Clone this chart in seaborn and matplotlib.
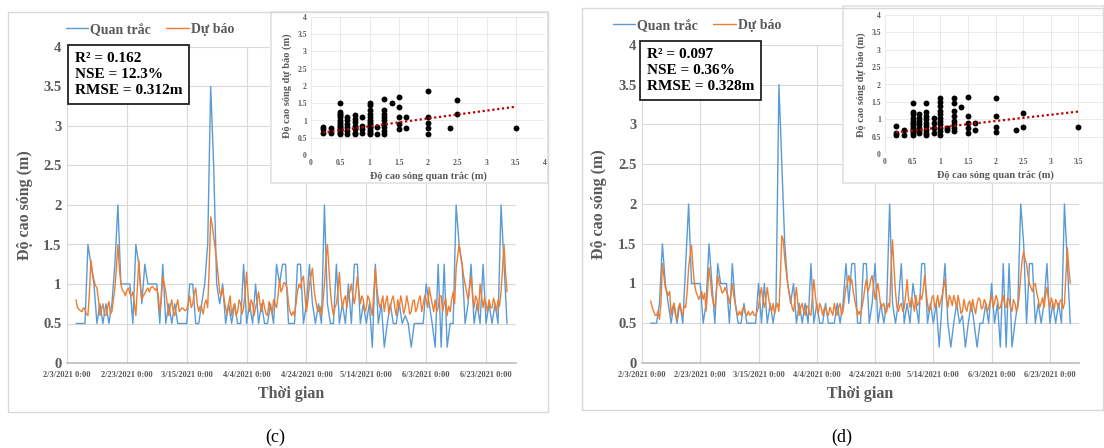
"""Observed vs forecast wave height: two panels (c) and (d), each with a scatter inset."""
import matplotlib

matplotlib.use("Agg")
import matplotlib.pyplot as plt
import numpy as np
import pandas as pd
import seaborn as sns
from matplotlib.patches import Rectangle

W, H = 1104, 448

# daily series, first value on 2021-02-06 (forecast also has a midday value in between)
SERIES_START = "2021-02-06"
AXIS_START, AXIS_END = "2021-02-03", "2021-07-03"
TICK_DATES = pd.date_range(AXIS_START, periods=8, freq="20D")

obs_c = [
    0.5, 0.5, 0.5, 0.5, 1.5, 1.25, 1.0, 0.5, 0.75, 0.5,
    0.75, 0.5, 0.75, 1.25, 2.0, 1.0, 1.0, 1.0, 1.0, 0.5,
    1.5, 1.25, 0.75, 1.25, 1.0, 1.0, 1.0, 1.0, 0.5, 1.25,
    0.5, 0.75, 0.5, 0.75, 0.5, 0.5, 0.5, 0.5, 1.0, 1.0,
    0.5, 0.5, 0.75, 1.0, 1.5, 3.5, 2.5, 1.0, 0.75, 1.0,
    0.5, 0.75, 0.5, 0.75, 0.5, 0.5, 1.25, 0.5, 0.75, 0.5,
    1.0, 0.5, 0.75, 0.5, 0.5, 0.75, 0.5, 1.25, 1.0, 1.25,
    1.25, 0.5, 0.5, 0.5, 1.25, 1.25, 0.5, 0.75, 1.25, 0.75,
    0.5, 0.75, 0.5, 2.0, 0.75, 0.5, 0.5, 1.25, 0.5, 0.75,
    0.5, 1.0, 0.5, 1.25, 1.25, 0.5, 0.75, 0.5, 0.75, 0.2,
    1.25, 0.5, 0.75, 0.2, 0.5, 0.75, 0.5, 0.5, 0.75, 0.5,
    0.6, 0.5, 0.2, 0.5, 0.5, 0.5, 0.5, 1.0, 0.75, 0.5,
    0.2, 1.25, 0.2, 1.25, 0.2, 0.5, 0.5, 2.0, 1.5, 1.25,
    0.5, 0.75, 1.25, 0.5, 0.75, 0.5, 1.25, 0.5, 0.75, 0.5,
    0.75, 0.5, 2.0, 1.25, 0.5,
]
pred_c = [
    0.8, 0.68, 0.65, 0.68, 0.6, 1.3, 1.05, 0.95, 0.6, 0.75,
    0.6, 0.78, 0.65, 0.95, 1.5, 1.0, 0.9, 0.92, 0.88, 0.9,
    0.6, 1.3, 0.8, 0.88, 0.95, 0.95, 0.95, 0.95, 0.65, 1.1,
    0.9, 0.6, 0.8, 0.6, 0.8, 0.68, 0.68, 0.68, 0.85, 0.75,
    0.95, 0.65, 0.7, 0.75, 0.7, 1.85, 1.6, 1.3, 0.9, 0.95,
    0.7, 0.75, 0.6, 0.75, 0.65, 0.75, 0.7, 1.15, 0.65, 0.75,
    0.7, 0.9, 0.65, 0.7, 0.6, 0.7, 0.8, 0.7, 1.05, 0.95,
    1.0, 0.75, 0.6, 0.6, 0.9, 0.95, 1.1, 0.65, 1.0, 1.2,
    0.8, 0.65, 0.6, 1.0, 1.5, 0.9, 0.6, 0.75, 1.15, 0.7,
    0.85, 0.85, 1.0, 0.75, 1.1, 0.75, 0.8, 0.7, 0.8, 0.6,
    1.2, 0.8, 0.75, 0.65, 0.85, 0.7, 0.85, 0.6, 0.7, 0.75,
    0.7, 0.75, 0.65, 0.8, 0.7, 0.85, 0.75, 0.8, 0.96, 0.75,
    0.8, 0.7, 0.85, 0.75, 0.6, 0.65, 0.9, 1.2, 1.5, 1.25,
    1.0, 0.8, 1.1, 0.7, 0.8, 1.0, 0.7, 0.75, 0.8, 0.7,
    0.75, 0.8, 0.9, 1.5, 0.9,
]
pred_c_mid = [
    0.7, 0.66, 0.7, 0.62, 0.9, 1.15, 0.98, 0.8, 0.68, 0.62,
    0.7, 0.62, 0.8, 1.2, 1.2, 0.92, 0.85, 0.95, 0.85, 0.75,
    0.95, 1.0, 0.85, 0.92, 0.9, 0.97, 0.92, 0.85, 0.8, 1.0,
    0.75, 0.72, 0.65, 0.72, 0.65, 0.7, 0.66, 0.75, 0.7, 0.88,
    0.75, 0.72, 0.62, 0.8, 1.2, 1.75, 1.45, 1.1, 0.85, 0.8,
    0.62, 0.85, 0.7, 0.6, 0.8, 0.62, 0.9, 0.85, 0.8, 0.6,
    0.78, 0.75, 0.8, 0.62, 0.78, 0.62, 0.75, 0.85, 0.9, 1.02,
    0.95, 0.65, 0.65, 0.75, 1.0, 1.05, 0.85, 0.8, 1.1, 0.95,
    0.7, 0.72, 0.75, 1.3, 1.2, 0.72, 0.7, 0.9, 0.85, 0.8,
    0.7, 0.9, 0.85, 0.9, 0.9, 0.85, 0.65, 0.85, 0.7, 0.9,
    0.95, 0.7, 0.85, 0.78, 0.62, 0.8, 0.7, 0.8, 0.85, 0.62,
    0.85, 0.62, 0.78, 0.65, 0.8, 0.65, 0.85, 0.7, 0.85, 0.65,
    0.65, 0.85, 0.65, 0.82, 0.72, 0.8, 0.75, 1.35, 1.35, 1.1,
    0.9, 0.95, 0.85, 0.85, 0.65, 0.85, 0.82, 0.65, 0.7, 0.82,
    0.65, 0.72, 1.2, 1.15,
]
obs_d = [
    0.5, 0.5, 0.5, 0.75, 1.5, 1.0, 0.75, 0.5, 0.75, 0.5,
    0.75, 0.5, 1.25, 2.0, 1.0, 1.0, 1.0, 1.0, 0.5, 0.75,
    1.5, 1.0, 0.5, 1.25, 1.0, 1.0, 1.0, 0.5, 1.25, 0.75,
    0.5, 0.5, 0.75, 0.5, 0.5, 0.5, 0.5, 1.0, 0.5, 1.0,
    0.5, 0.75, 0.5, 0.75, 3.5, 2.5, 1.5, 1.0, 0.75, 1.0,
    0.5, 0.75, 0.5, 0.75, 0.5, 1.25, 0.5, 0.75, 0.5, 0.5,
    0.75, 0.5, 0.5, 0.5, 0.75, 0.5, 0.75, 1.25, 0.75, 1.25,
    1.25, 0.5, 0.5, 1.25, 1.25, 0.5, 0.75, 1.25, 0.5, 0.75,
    0.5, 0.75, 2.0, 0.75, 0.5, 0.75, 1.25, 0.5, 0.75, 0.5,
    1.0, 0.75, 0.5, 1.25, 1.25, 0.5, 0.75, 0.5, 0.75, 0.2,
    0.75, 1.25, 0.5, 0.2, 0.5, 0.75, 0.5, 0.6, 0.2, 0.5,
    0.75, 0.5, 0.2, 0.5, 0.5, 0.75, 0.5, 1.0, 0.5, 0.75,
    0.2, 1.25, 0.2, 1.25, 0.2, 0.5, 0.75, 2.0, 1.5, 0.5,
    1.25, 1.25, 0.5, 0.75, 0.5, 0.75, 1.25, 0.5, 0.75, 0.5,
    0.75, 0.5, 2.0, 1.25, 0.5,
]
pred_d = [
    0.78, 0.65, 0.6, 0.55, 1.25, 0.95, 0.85, 0.6, 0.75, 0.55,
    0.75, 0.6, 0.7, 1.2, 1.48, 1.0, 0.85, 0.85, 0.8, 0.65,
    1.2, 0.85, 0.7, 1.1, 0.95, 0.9, 0.9, 0.75, 1.0, 0.75,
    0.6, 0.6, 0.7, 0.6, 0.6, 0.65, 0.6, 0.7, 0.95, 0.7,
    0.95, 0.7, 0.75, 0.7, 0.65, 1.6, 1.3, 1.0, 0.8, 0.65,
    0.95, 0.6, 0.75, 0.6, 0.7, 0.6, 1.05, 0.7, 0.75, 0.6,
    0.7, 0.6, 0.65, 0.75, 0.6, 0.75, 0.65, 0.95, 1.1, 1.05,
    0.8, 0.6, 0.6, 0.8, 1.05, 0.95, 1.1, 0.8, 1.0, 0.7,
    0.75, 0.65, 0.7, 1.55, 0.9, 0.65, 0.75, 0.7, 1.05, 0.7,
    0.75, 0.85, 0.75, 0.8, 1.1, 0.75, 0.7, 0.85, 0.75, 0.7,
    0.85, 1.05, 0.7, 0.8, 0.85, 0.7, 0.75, 0.65, 0.7, 0.75,
    0.65, 0.7, 0.75, 0.8, 0.7, 0.75, 0.7, 0.85, 0.75, 0.8,
    0.7, 0.85, 0.7, 0.8, 0.65, 0.75, 0.7, 1.1, 1.4, 1.25,
    1.0, 0.9, 1.0, 0.8, 0.75, 0.7, 0.95, 0.7, 0.75, 0.8,
    0.7, 0.8, 0.75, 1.45, 1.0,
]
pred_d_mid = [
    0.7, 0.6, 0.65, 0.75, 1.1, 0.9, 0.9, 0.7, 0.6, 0.7,
    0.65, 0.72, 0.9, 1.35, 1.2, 0.9, 0.8, 0.9, 0.88, 0.9,
    1.05, 0.75, 0.9, 1.0, 0.88, 0.95, 0.85, 0.85, 0.85, 0.65,
    0.65, 0.68, 0.62, 0.65, 0.62, 0.6, 0.65, 0.85, 0.8, 0.8,
    0.8, 0.65, 0.62, 0.75, 1.1, 1.55, 1.15, 0.9, 0.7, 0.8,
    0.75, 0.7, 0.65, 0.72, 0.62, 0.85, 0.85, 0.62, 0.7, 0.68,
    0.62, 0.7, 0.6, 0.65, 0.7, 0.6, 0.8, 1.0, 1.0, 0.9,
    0.7, 0.65, 0.7, 0.95, 0.9, 1.05, 0.95, 0.9, 0.85, 0.72,
    0.62, 0.75, 1.2, 1.2, 0.7, 0.72, 0.65, 0.85, 0.8, 0.82,
    0.65, 0.72, 0.85, 0.92, 0.9, 0.65, 0.82, 0.7, 0.85, 0.78,
    0.95, 0.8, 0.85, 0.72, 0.78, 0.85, 0.62, 0.8, 0.65, 0.78,
    0.8, 0.62, 0.82, 0.68, 0.8, 0.65, 0.78, 0.7, 0.85, 0.68,
    0.78, 0.72, 0.82, 0.7, 0.8, 0.65, 0.85, 1.3, 1.3, 1.1,
    0.95, 0.98, 0.88, 0.7, 0.82, 0.85, 0.8, 0.82, 0.68, 0.75,
    0.78, 0.68, 1.1, 1.2,
]

# scatter insets: observed column values and the forecasts stacked on each
sc_obs_c = ([0.2] * 3 + [0.35] * 2 + [0.5] * 14 + [0.62] * 6 + [0.75] * 7 + [0.88] * 4
            + [1.0] * 14 + [1.13] * 2 + [1.25] * 9 + [1.38] + [1.5] * 5 + [1.63] * 2
            + [2.0] * 5 + [2.37] + [2.5] * 2 + [3.5])
sc_pred_c = [
    0.65, 0.75, 0.82,
    0.63, 0.77,
    1.5, 1.25, 1.2, 1.15, 1.1, 1.0, 0.95, 0.9, 0.85, 0.8, 0.75, 0.7, 0.65, 0.6,
    1.1, 1.0, 0.9, 0.8, 0.7, 0.6,
    1.15, 1.05, 0.95, 0.85, 0.75, 0.65, 0.6,
    1.1, 0.85, 0.75, 0.65,
    1.5, 1.45, 1.3, 1.2, 1.1, 1.0, 0.95, 0.9, 0.85, 0.8, 0.75, 0.7, 0.65, 0.6,
    0.8, 0.6,
    1.62, 1.3, 1.2, 1.1, 1.0, 0.9, 0.8, 0.7, 0.6,
    1.5,
    1.68, 1.38, 1.1, 0.9, 0.75,
    1.1, 0.78,
    1.85, 1.1, 0.92, 0.78, 0.6,
    0.78,
    1.6, 1.2,
    0.78,
]
sc_obs_d = ([0.2] * 3 + [0.35] * 2 + [0.5] * 13 + [0.62] * 7 + [0.75] * 9 + [0.88] * 4
            + [1.0] * 11 + [1.12] * 2 + [1.25] * 8 + [1.38] + [1.5] * 5 + [1.62] * 2
            + [2.0] * 4 + [2.37] + [2.5] * 2 + [3.5])
sc_pred_d = [
    0.8, 0.6, 0.55,
    0.7, 0.55,
    1.48, 1.22, 1.15, 1.05, 0.95, 0.9, 0.85, 0.8, 0.75, 0.7, 0.65, 0.6, 0.55,
    1.15, 1.05, 0.95, 0.85, 0.75, 0.65, 0.6,
    1.48, 1.22, 1.1, 1.0, 0.9, 0.8, 0.7, 0.6, 0.55,
    1.05, 0.9, 0.75, 0.6,
    1.62, 1.5, 1.38, 1.25, 1.15, 1.05, 0.95, 0.85, 0.75, 0.65, 0.55,
    0.75, 0.7,
    1.62, 1.48, 1.25, 1.1, 0.95, 0.85, 0.75, 0.65,
    1.35,
    1.65, 1.08, 0.9, 0.75, 0.6,
    0.9, 0.7,
    1.6, 1.08, 0.78, 0.62,
    0.7,
    1.17, 0.77,
    0.78,
]

# linear trendline: (intercept, slope)
trend_c = (0.605, 0.227)
trend_d = (0.584, 0.182)

stats_c = ["R² = 0.162", "NSE = 12.3%", "RMSE = 0.312m"]
stats_d = ["R² = 0.097", "NSE = 0.36%", "RMSE = 0.328m"]

BLUE = "#5b9bd5"
ORANGE = "#ed7d31"
TXT = "#595959"
GRID = "#d9d9d9"

sns.set_theme(style="whitegrid")
plt.rcParams["font.family"] = ["Liberation Serif", "DejaVu Serif"]
plt.rcParams["font.weight"] = "bold"
plt.rcParams["axes.labelweight"] = "bold"


def px_rect(x0, y0, x1, y1):
    """Pixel box (top-left origin) -> figure fraction [left, bottom, width, height]."""
    return [x0 / W, 1 - y1 / H, (x1 - x0) / W, (y1 - y0) / H]


def with_midday(day_vals, mid_vals):
    """Merge daily values with the midday values between them into one 12-hourly list."""
    out = []
    for v, m in zip(day_vals, mid_vals):
        out += [v, m]
    out.append(day_vals[-1])
    return out


def draw_panel(fig, obs, pred, pred_mid, sc_obs, sc_pred, trend, stats, lay):
    fx0, fy0, fx1, fy1 = lay["frame"]
    fig.patches.append(Rectangle((fx0 / W, 1 - fy1 / H), (fx1 - fx0) / W, (fy1 - fy0) / H,
                                 transform=fig.transFigure, fill=False,
                                 ec="#d9d9d9", lw=1.0, zorder=0))

    ax = fig.add_axes(px_rect(*lay["main"]))
    obs_dates = pd.date_range(SERIES_START, periods=len(obs), freq="D")
    pred_full = with_midday(pred, pred_mid)
    pred_dates = pd.date_range(SERIES_START, periods=len(pred_full), freq="12h")
    sns.lineplot(x=obs_dates, y=obs, color=BLUE, lw=1.0, label="Quan trắc", ax=ax)
    sns.lineplot(x=pred_dates, y=pred_full, color=ORANGE, lw=1.0, label="Dự báo", ax=ax)

    ax.set_xlim(pd.Timestamp(AXIS_START), pd.Timestamp(AXIS_END))
    ax.set_ylim(0, 4)
    yt = np.arange(0, 4.01, 0.5)
    ax.set_yticks(yt)
    ax.set_yticklabels([f"{v:g}" for v in yt], fontsize=10.5, fontweight="bold")
    ax.set_xticks(TICK_DATES)
    ax.set_xticklabels([f"{d.month}/{d.day}/{d.year} 0:00" for d in TICK_DATES],
                       fontsize=6, fontweight="bold")
    ax.grid(True, color=GRID, lw=0.8)
    ax.set_facecolor("white")
    for side in ("left", "top", "right"):
        ax.spines[side].set_visible(False)
    ax.spines["bottom"].set_color("#bfbfbf")
    ax.tick_params(length=0, colors=TXT, pad=4)
    ax.tick_params(axis="x", pad=6)
    ax.set_xlabel("Thời gian", fontsize=11.5, color=TXT, fontweight="bold")
    ax.set_ylabel("Độ cao sóng (m)", fontsize=11.5, color=TXT, fontweight="bold")
    ax.xaxis.set_label_coords(0.5, lay["xlab"])
    ax.yaxis.set_label_coords(lay["ylab"], 0.5)

    leg = ax.legend(loc="upper left", bbox_to_anchor=(lay["legend"][0] / W, 1 - lay["legend"][1] / H),
                    bbox_transform=fig.transFigure, ncol=2, frameon=False,
                    prop={"size": 10, "weight": "bold"},
                    handlelength=1.6, handletextpad=0.15, columnspacing=1.1,
                    borderaxespad=0, borderpad=0)
    for t in leg.get_texts():
        t.set_color(TXT)

    ax.text(lay["stats"][0], lay["stats"][1], "\n".join(stats), transform=ax.transAxes,
            ha="left", va="top", fontsize=11, fontweight="bold", color="black", linespacing=1.3,
            bbox=dict(boxstyle="square,pad=0.45", fc="white", ec="#222222", lw=1.3))

    # inset: white card, then the scatter axes on top
    bg = fig.add_axes(px_rect(*lay["card"]))
    bg.set_xticks([])
    bg.set_yticks([])
    bg.set_facecolor("white")
    bg.grid(False)
    for s in bg.spines.values():
        s.set_color("#e3e3e3")

    ins = fig.add_axes(px_rect(*lay["inset"]))
    sns.scatterplot(x=sc_obs, y=sc_pred, color="black", s=18, linewidth=0, ax=ins)
    tx = np.array([min(sc_obs), max(sc_obs)])
    ins.plot(tx, trend[0] + trend[1] * tx, color="#c00000", ls=(0, (1, 1.2)), lw=1.6)
    it = np.arange(0, 4.01, 0.5)
    ins.set_xlim(0, 4)
    ins.set_ylim(0, 4)
    ins.set_xticks(it)
    ins.set_yticks(it)
    xlabels = [f"{v:g}" for v in it]
    if lay["hide_last_xtick"]:
        xlabels[-1] = ""  # falls past the picture edge in this panel
    ins.set_xticklabels(xlabels, fontsize=5.5, fontweight="bold")
    ins.set_yticklabels([f"{v:g}" for v in it], fontsize=5.5, fontweight="bold")
    ins.grid(True, color="#e6e6e6", lw=0.6)
    ins.set_facecolor("white")
    for s in ins.spines.values():
        s.set_visible(False)
    ins.tick_params(length=0, colors=TXT, pad=3)
    ins.set_xlabel("Độ cao sóng quan trắc (m)", fontsize=7.5, color=TXT,
                   fontweight="bold", labelpad=3)
    ins.set_ylabel("Độ cao sóng dự báo (m)", fontsize=7.5, color=TXT,
                   fontweight="bold", labelpad=4)

    fig.text(lay["caption"][0] / W, 1 - lay["caption"][1] / H, lay["caption"][2],
             ha="center", va="center", fontsize=13, fontweight="normal", color="black")


layout_c = {
    "frame": (8, 12, 548, 412),
    "main": (67, 47, 516, 363),
    "xlab": -0.072,
    "ylab": -0.075,
    "legend": (66, 23),
    "stats": (0.018, 0.985),
    "card": (271, 12, 548, 183),
    "inset": (311, 17, 545, 155),
    "hide_last_xtick": False,
    "caption": (275, 437, "(c)"),
}
layout_d = {
    "frame": (582, 8, 1103, 410),
    "main": (642, 45, 1079, 363),
    "xlab": -0.072,
    "ylab": -0.08,
    "legend": (613, 19),
    "stats": (0.012, 0.99),
    "card": (843, 6, 1104, 183),
    "inset": (885, 15, 1106, 154),
    "hide_last_xtick": True,
    "caption": (842, 437, "(d)"),
}

fig = plt.figure(figsize=(W / 100, H / 100), dpi=100)
draw_panel(fig, obs_c, pred_c, pred_c_mid, sc_obs_c, sc_pred_c, trend_c, stats_c, layout_c)
draw_panel(fig, obs_d, pred_d, pred_d_mid, sc_obs_d, sc_pred_d, trend_d, stats_d, layout_d)

fig.savefig("out.png", dpi=100, facecolor="white")
plt.close(fig)
